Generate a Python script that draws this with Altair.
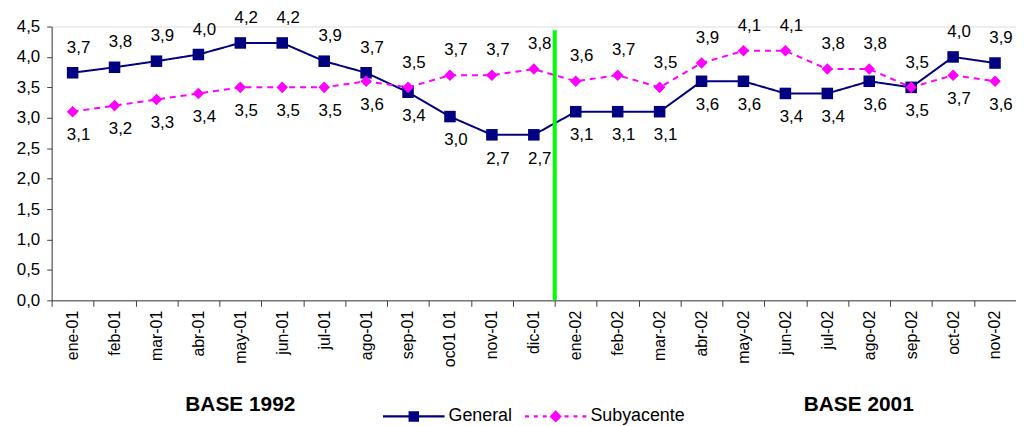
import altair as alt
import pandas as pd

months = ["ene-01", "feb-01", "mar-01", "abr-01", "may-01", "jun-01", "jul-01",
          "ago-01", "sep-01", "oc01 01", "nov-01", "dic-01", "ene-02", "feb-02",
          "mar-02", "abr-02", "may-02", "jun-02", "jul-02", "ago-02", "sep-02",
          "oct-02", "nov-02"]
general = [3.74, 3.83, 3.93, 4.04, 4.23, 4.23, 3.93, 3.74, 3.42, 3.02, 2.72, 2.72,
           3.1, 3.1, 3.1, 3.6, 3.6, 3.4, 3.4, 3.6, 3.5, 4.0, 3.9]
subyacente = [3.1, 3.2, 3.3, 3.4, 3.5, 3.5, 3.5, 3.6, 3.5, 3.7, 3.7, 3.8,
              3.6, 3.7, 3.5, 3.9, 4.1, 4.1, 3.8, 3.8, 3.5, 3.7, 3.6]
series_names = ["General", "Subyacente"]
series_colors = ["#000080", "#FF00FF"]
y_ticks = [0, 0.5, 1.0, 1.5, 2.0, 2.5, 3.0, 3.5, 4.0, 4.5]
base_labels = ["BASE 1992", "BASE 2001"]
divider_month = ["ene-02"]
divider_to = [4.44]

rows = []
for i, m in enumerate(months):
    rows.append({"mes": m, "serie": "General", "valor": general[i], "otro": subyacente[i]})
    rows.append({"mes": m, "serie": "Subyacente", "valor": subyacente[i], "otro": general[i]})
df = pd.DataFrame(rows)

FONT = "Liberation Sans"
W, H = 972, 276

xscale = alt.Scale(type="band", domain=months, paddingInner=0, paddingOuter=0)
yscale = alt.Scale(domain=[0, 4.5], nice=False, zero=True)

xaxis = alt.Axis(labelAngle=-90, labelFontSize=16, labelColor="black",
                 labelFont=FONT, tickBand="extent", tickSize=6,
                 tickColor="#404040", domainColor="#404040",
                 labelPadding=4, grid=False, title=None)
yaxis = alt.Axis(values=y_ticks, labelExpr="replace(format(datum.value, '.1f'), '.', ',')",
                 labelFontSize=17, labelColor="black", labelFont=FONT, labelOverlap=False,
                 tickSize=5, tickColor="#404040", domainColor="#404040",
                 labelPadding=7, grid=False, title=None)

X = alt.X("mes:N", scale=xscale, bandPosition=0.5, axis=xaxis)
Y = alt.Y("valor:Q", scale=yscale, axis=yaxis)

color = alt.Color("serie:N", scale=alt.Scale(domain=series_names, range=series_colors), legend=None)

base = alt.Chart(df)

lines = base.mark_line(strokeWidth=2).encode(
    x=X, y=Y, color=color,
    strokeDash=alt.StrokeDash("serie:N", scale=alt.Scale(domain=series_names, range=[[1, 0], [6, 5]]),
                              legend=None),
)

points = base.mark_point(filled=True, size=135, opacity=1).encode(
    x=X, y=Y, color=color,
    shape=alt.Shape("serie:N", scale=alt.Scale(domain=series_names, range=["square", "diamond"]),
                    legend=None),
)

cond = ("(datum.serie == 'General' && datum.valor > datum.otro) || "
        "(datum.serie == 'Subyacente' && datum.valor >= datum.otro)")
lbl = "replace(format(datum.valor, '.1f'), '.', ',')"

labels_above = base.transform_filter(cond).transform_calculate(lbl=lbl).mark_text(
    dy=-25, dx=6, fontSize=17, font=FONT, color="black"
).encode(x=X, y=Y, text="lbl:N")

labels_below = base.transform_filter("!(" + cond + ")").transform_calculate(lbl=lbl).mark_text(
    dy=24, dx=6, fontSize=17, font=FONT, color="black"
).encode(x=X, y=Y, text="lbl:N")

rule_df = pd.DataFrame({"mes": divider_month, "hasta": divider_to})
rule = alt.Chart(rule_df).mark_rule(color="#00FF00", strokeWidth=4, strokeCap="butt").encode(
    x=alt.X("mes:N", scale=xscale, bandPosition=0, axis=xaxis),
    y=alt.Y("hasta:Q", scale=yscale, axis=yaxis),
    y2=alt.value(H),
)

base92 = alt.Chart(pd.DataFrame({"mes": ["may-01"], "t": [base_labels[0]]})).mark_text(
    fontSize=21, fontWeight="bold", font=FONT, color="black"
).encode(x=alt.X("mes:N", scale=xscale, bandPosition=0.5, axis=xaxis), y=alt.value(H + 106), text="t:N")

base01 = alt.Chart(pd.DataFrame({"mes": ["ago-02"], "t": [base_labels[1]]})).mark_text(
    fontSize=21, fontWeight="bold", font=FONT, color="black"
).encode(x=alt.X("mes:N", scale=xscale, bandPosition=0.25, axis=xaxis), y=alt.value(H + 106), text="t:N")

path_gen = "M-1,-0.035H1V0.035H-1Z M-0.17,-0.17H0.17V0.17H-0.17Z"
path_sub = ("M-1,-0.035H-0.87V0.035H-1Z M-0.71,-0.035H-0.58V0.035H-0.71Z "
            "M-0.42,-0.035H-0.29V0.035H-0.42Z M0.29,-0.035H0.42V0.035H0.29Z "
            "M0.58,-0.035H0.71V0.035H0.58Z M0.87,-0.035H1V0.035H0.87Z "
            "M-0.2,0L0,-0.2L0.2,0L0,0.2Z")

leg = alt.Legend(orient="none", legendX=334, legendY=362, direction="horizontal", title=None,
                 symbolSize=3844, labelFontSize=18, labelFont=FONT, labelColor="black",
                 labelOffset=4, columnPadding=12, symbolStrokeWidth=0)

legend_layer = base.transform_filter("false").mark_point(filled=True, opacity=1).encode(
    x=X, y=Y,
    color=alt.Color("serie:N", scale=alt.Scale(domain=series_names, range=series_colors), legend=leg),
    shape=alt.Shape("serie:N", scale=alt.Scale(domain=series_names, range=[path_gen, path_sub]), legend=leg),
)

chart = alt.layer(lines, points, labels_above, labels_below, base92, base01, legend_layer, rule).resolve_scale(
    color="independent", shape="independent"
).properties(
    width=W, height=H,
    autosize=alt.AutoSizeParams(type="none"),
    padding={"left": 44, "top": 17, "right": 0, "bottom": 125},
).configure_view(strokeWidth=0).configure(font=FONT)

chart.save("out.html", embed_options={"renderer": "svg", "actions": False})
